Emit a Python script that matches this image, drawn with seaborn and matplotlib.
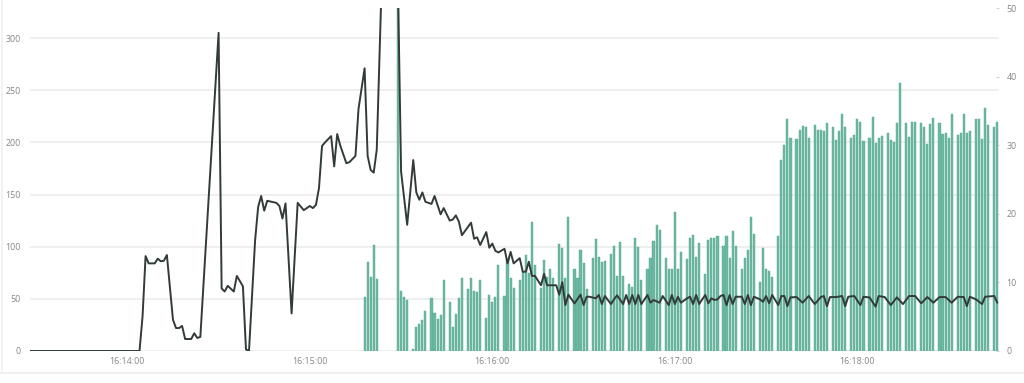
import matplotlib
matplotlib.use("Agg")
import matplotlib.pyplot as plt
from matplotlib.lines import Line2D
from matplotlib.ticker import FixedLocator, FuncFormatter
import seaborn as sns

# ---- data (time in seconds after 16:13:28) ----
line_t = [0, 36, 37, 38, 39, 41, 42, 43, 44, 45, 47, 48, 49, 50, 51, 53, 54, 55, 56,
          62, 63, 64, 65, 67, 68, 70, 71, 72, 74, 75, 76, 77, 78, 81, 82, 83, 84, 86,
          88, 90, 92, 93, 94, 95, 96, 97, 99, 100, 101, 102, 104, 105, 106, 107, 108,
          110, 111, 112, 113, 114, 119, 122, 124, 126, 127, 128, 129, 130, 132, 133,
          135, 136, 138, 139, 140, 141, 142, 145, 146, 147, 148, 150, 151, 152, 153,
          154, 156, 157, 158, 159, 161, 162, 163, 164, 165, 166, 168, 169, 170, 171,
          173, 174, 175, 176, 177, 179, 181, 182, 183, 184, 186, 187, 188, 189, 191,
          192, 193, 195, 196, 197, 198, 199, 200, 201, 203, 204, 205, 207, 208, 210,
          211, 212, 213, 214, 216, 217, 218, 219, 220, 221, 222, 223, 224, 225, 226,
          227, 228, 229, 230, 231, 232, 234, 235, 236, 237, 238, 240, 241, 242, 243,
          244, 246, 247, 248, 249, 250, 252, 254, 256, 258, 260, 261, 262, 263, 265,
          267, 268, 269, 271, 273, 274, 276, 278, 279, 281, 283, 285, 287, 289, 291,
          293, 295, 297, 299, 301, 303, 305, 307, 308, 309, 311, 313, 314, 317, 318]
line_v = [0, 0, 33, 91, 84, 84, 88.5, 86, 86.5, 92, 30, 22, 22, 24, 11.5, 11.5, 17, 12.5, 13.5,
          305, 60, 57, 62.5, 57, 72, 62, 1.5, 0, 106, 138, 148.6, 134.5, 144, 142, 139, 127, 141.5, 36,
          142, 135, 139, 137, 140, 156, 196.5, 200, 206, 177, 208, 197, 180, 181, 184, 187, 232,
          271, 187, 173.5, 171, 193, 690, 172, 121, 183, 152, 145, 152, 143, 141, 148.6,
          131, 137, 125, 126, 130, 124, 111, 123, 107.6, 109, 101.6, 114, 99, 103, 96,
          94.5, 98, 84, 95, 84, 89, 76, 76, 85.6, 72, 72, 63, 74, 63, 63,
          63, 54, 66, 44, 54, 45.6, 54, 44, 52, 52, 50.5, 53.7, 45, 52.7, 45,
          49.5, 53.4, 45, 53.7, 45, 53.7, 45, 53.7, 45, 53.7, 46.3, 48.9, 46.3, 52.7, 44,
          53.7, 45, 52, 46.3, 50.5, 52, 45, 53.7, 45, 49.5, 53.7, 45.7, 50.5, 48.9, 49.5,
          52.7, 53.7, 44, 53.7, 45, 52, 52, 45, 53.7, 44, 52, 49.5, 47.2, 52.7, 45.7,
          53.7, 44, 52.7, 52.7, 43, 51.4, 51.7, 46.3, 52.7, 45, 51.7, 52.7, 43, 51.7, 51.7,
          52.7, 43, 52, 52.7, 44, 52, 51.4, 42.5, 52.7, 51.7, 44, 51.4, 45, 52.7, 52.7,
          45.7, 51.7, 46.3, 51.7, 51.7, 46.3, 52, 51.7, 43, 52, 49.5, 45, 52, 52.7, 46.3]

bar_t = [110, 111, 112, 113, 114,
         121, 122, 123, 124,
         126, 127, 128, 129, 130,
         132, 133, 134, 135, 136,
         138, 139, 140, 141, 142,
         144, 145, 146, 147, 148,
         150, 151, 152, 153, 154,
         156, 157, 158, 159,
         161, 162, 163, 164, 165, 166,
         168, 169, 170, 171, 172,
         174, 175, 176, 177,
         179, 180, 181, 182, 183,
         185, 186, 187, 188, 189,
         191, 192, 193, 194, 195,
         197, 198, 199, 200, 201,
         203, 204, 205, 206, 207,
         209, 210, 211, 212, 213, 214,
         216, 217, 218, 219, 220,
         222, 223, 224, 225, 226,
         228, 229, 230, 231, 232,
         234, 235, 236, 237, 238,
         240, 241, 242, 243, 244,
         246, 247, 248, 249, 250,
         252, 253, 254, 255, 256,
         258, 259, 260, 261, 262,
         264, 265, 266, 267, 268,
         270, 271, 272, 273, 274,
         276, 277, 278, 279, 280,
         282, 283, 284, 285, 286,
         288, 289, 290, 291,
         293, 294, 295, 296, 297,
         299, 300, 301, 302, 303,
         305, 306, 307, 308, 309,
         311, 312, 313, 314, 315,
         317, 318]
bar_v = [7.8, 13, 10.8, 15.5, 10.5,
         60, 8.7, 7.8, 7.5,
         0.25, 3.5, 3.9, 4.5, 5.8,
         7.7, 5.6, 4.6, 5.2, 10.4,
         7.2, 3.5, 5.4, 7.7, 10.6,
         9, 10.7, 8.7, 8.6, 10.3,
         4.8, 8.1, 7.2, 7.8, 12.5,
         8, 13.4, 10.7, 9.2,
         10.3, 11.6, 14, 11.4, 18.8, 12.5,
         9.2, 13.3, 10.8, 11.9, 10.7,
         15.6, 15, 10.7, 19.6,
         11.9, 10.7, 14.7, 12.8, 9.1,
         13.6, 16.3, 13.7, 13, 13.1,
         14.2, 15.3, 11, 15.9, 11,
         9.8, 9.4, 16.5, 15.1, 10.4,
         11.9, 13.5, 16, 18.4, 17.6,
         13.6, 12, 12, 20.3, 12, 14.4,
         13.4, 16.4, 16.9, 13.7, 15.7,
         11.2, 16.2, 16.4, 16.4, 16.8,
         15.3, 16.8, 13.5, 17.5, 15.3,
         11.9, 13.5, 14.7, 19.6, 17.1,
         10, 15, 12, 11.6, 10.8,
         16.8, 27.8, 30, 33.8, 31.1,
         30.9, 32.2, 32.8, 32.6, 31.1,
         32.9, 32.2, 32.2, 32.1, 33.3,
         32.7, 30.8, 32.1, 34.5, 32.7,
         31, 31.5, 33.8, 33.4, 30.6,
         31, 34.1, 30.3, 31.1, 31.3,
         31.8, 30.8, 30.5, 33.3, 39.1,
         33.3, 31.2, 33.4, 33.4,
         33.2, 32.6, 30.2, 33.1, 33.9,
         33.2, 31.7, 31.8, 31.1, 34.6,
         31.5, 31.8, 34.5, 31.8, 32.1,
         33.8, 33.8, 30.9, 35.4, 32.9,
         32.7, 33.4]

x_tick_t = [32, 92, 152, 212, 272]
left_ticks = [0, 50, 100, 150, 200, 250, 300]
right_ticks = [0, 10, 20, 30, 40, 50]
START = 16 * 3600 + 13 * 60 + 28

def fmt_time(t, pos=None):
    s = int(round(START + t))
    return f"{s // 3600:02d}:{(s % 3600) // 60:02d}:{s % 60:02d}"

sns.set_style("white")
plt.rcParams["font.family"] = ["Open Sans", "DejaVu Sans"]

TXT = "#878787"
GRID = "#ebebeb"
BAR = "#6cb9a3"
BAR_EDGE = "#55a891"
LINE = "#323a3a"
FS = 6.4

fig = plt.figure(figsize=(10.24, 3.83), dpi=100)
x0, x1 = 30 / 1024, 998.8 / 1024
y0 = 32 / 383
h = 343 / 383
ax = fig.add_axes([x0, y0, x1 - x0, h])
ax2 = ax.twinx()
ax3 = ax.twinx()

XMAX = 318.5
LMAX = 328.8

# base axis: grid + left labels
ax.set_xlim(0, XMAX)
ax.set_ylim(0, LMAX)
ax.yaxis.set_major_locator(FixedLocator(left_ticks))
for v in left_ticks:
    ax.axhline(v, color=GRID, lw=1.1, zorder=0)
ax.tick_params(axis="y", length=0, pad=6.5, labelsize=FS, labelcolor=TXT)

# bars on right axis
sns.barplot(x=bar_t, y=bar_v, ax=ax2, native_scale=True, width=0.7,
            color=BAR, saturation=1, errorbar=None, edgecolor=BAR_EDGE, linewidth=0.3)
ax2.set_ylim(0, 50)
ax2.set_xlim(0, XMAX)
ax2.yaxis.set_major_locator(FixedLocator(right_ticks))
ax2.tick_params(axis="y", direction="in", length=2.5, width=0.8, color="#d0d0d0",
                pad=5.5, labelsize=FS, labelcolor=TXT)
ax2.set_xlabel("")
ax2.set_ylabel("")

# line on left scale
sns.lineplot(x=line_t, y=line_v, ax=ax3, color=LINE, linewidth=1.4, estimator=None)
ax3.set_ylim(0, LMAX)
ax3.set_xlim(0, XMAX)
ax3.set_yticks([])
ax3.set_xlabel("")
ax3.set_ylabel("")

for a in (ax, ax2, ax3):
    for s in a.spines.values():
        s.set_visible(False)
ax2.patch.set_visible(False)
ax3.patch.set_visible(False)
ax.set_xlim(0, XMAX)
ax.xaxis.set_major_locator(FixedLocator(x_tick_t))
ax.xaxis.set_major_formatter(FuncFormatter(fmt_time))
ax.tick_params(axis="x", length=0, pad=4, labelsize=FS, labelcolor=TXT)

# card border
fig.add_artist(Line2D([0, 1], [1 - 373 / 383] * 2, transform=fig.transFigure, color="#eeeeee", lw=1.2))
fig.add_artist(Line2D([2 / 1024] * 2, [1 - 373 / 383, 1], transform=fig.transFigure, color="#f0f0f0", lw=1.2))

fig.savefig("out.png", dpi=100)
